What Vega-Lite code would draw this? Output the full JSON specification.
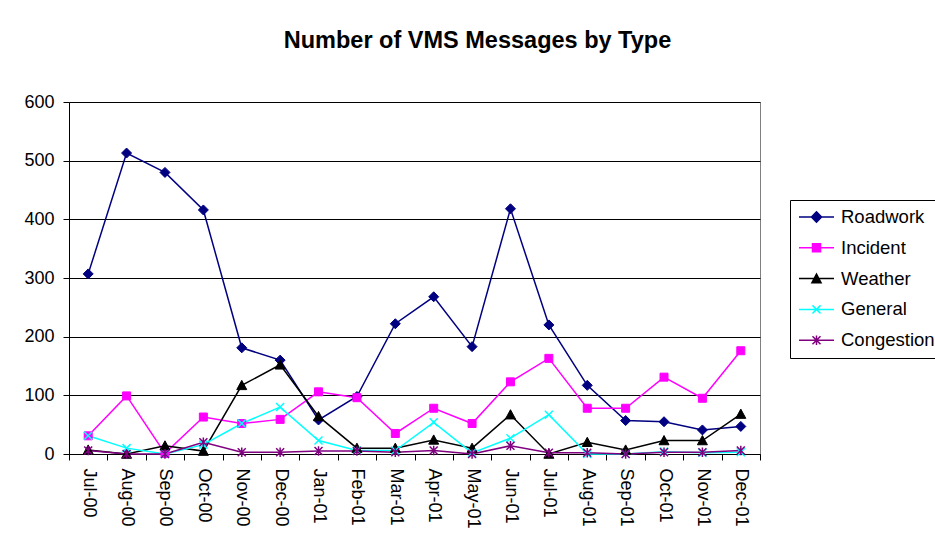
{
  "$schema": "https://vega.github.io/schema/vega-lite/v6.json",
  "width": 691,
  "height": 352,
  "autosize": "none",
  "padding": {"left": 69, "top": 102, "right": 175, "bottom": 88},
  "background": "white",
  "title": {
    "text": "Number of VMS Messages by Type",
    "font": "Liberation Sans",
    "fontSize": 23.5,
    "fontWeight": "bold",
    "color": "black",
    "anchor": "middle",
    "dx": 63,
    "offset": 41
  },
  "config": {
    "view": {"stroke": "#808080", "strokeWidth": 1},
    "font": "Liberation Sans",
    "axis": {
      "labelFont": "Liberation Sans",
      "labelFontSize": 18,
      "labelColor": "black",
      "domainColor": "black",
      "tickColor": "black",
      "gridColor": "black",
      "gridOpacity": 1,
      "tickSize": 6,
      "title": null
    }
  },
  "data": {
    "values": [
      {"month": "Jul-00", "series": "Roadwork", "count": 307},
      {"month": "Aug-00", "series": "Roadwork", "count": 513},
      {"month": "Sep-00", "series": "Roadwork", "count": 480},
      {"month": "Oct-00", "series": "Roadwork", "count": 416},
      {"month": "Nov-00", "series": "Roadwork", "count": 181},
      {"month": "Dec-00", "series": "Roadwork", "count": 160},
      {"month": "Jan-01", "series": "Roadwork", "count": 58},
      {"month": "Feb-01", "series": "Roadwork", "count": 98},
      {"month": "Mar-01", "series": "Roadwork", "count": 222},
      {"month": "Apr-01", "series": "Roadwork", "count": 268},
      {"month": "May-01", "series": "Roadwork", "count": 183},
      {"month": "Jun-01", "series": "Roadwork", "count": 418},
      {"month": "Jul-01", "series": "Roadwork", "count": 220},
      {"month": "Aug-01", "series": "Roadwork", "count": 117},
      {"month": "Sep-01", "series": "Roadwork", "count": 57},
      {"month": "Oct-01", "series": "Roadwork", "count": 55},
      {"month": "Nov-01", "series": "Roadwork", "count": 41},
      {"month": "Dec-01", "series": "Roadwork", "count": 47},

      {"month": "Jul-00", "series": "Incident", "count": 31},
      {"month": "Aug-00", "series": "Incident", "count": 99},
      {"month": "Sep-00", "series": "Incident", "count": 1},
      {"month": "Oct-00", "series": "Incident", "count": 63},
      {"month": "Nov-00", "series": "Incident", "count": 52},
      {"month": "Dec-00", "series": "Incident", "count": 59},
      {"month": "Jan-01", "series": "Incident", "count": 106},
      {"month": "Feb-01", "series": "Incident", "count": 96},
      {"month": "Mar-01", "series": "Incident", "count": 35},
      {"month": "Apr-01", "series": "Incident", "count": 78},
      {"month": "May-01", "series": "Incident", "count": 52},
      {"month": "Jun-01", "series": "Incident", "count": 123},
      {"month": "Jul-01", "series": "Incident", "count": 163},
      {"month": "Aug-01", "series": "Incident", "count": 78},
      {"month": "Sep-01", "series": "Incident", "count": 78},
      {"month": "Oct-01", "series": "Incident", "count": 131},
      {"month": "Nov-01", "series": "Incident", "count": 95},
      {"month": "Dec-01", "series": "Incident", "count": 176},

      {"month": "Jul-00", "series": "Weather", "count": 7},
      {"month": "Aug-00", "series": "Weather", "count": 0},
      {"month": "Sep-00", "series": "Weather", "count": 14},
      {"month": "Oct-00", "series": "Weather", "count": 5},
      {"month": "Nov-00", "series": "Weather", "count": 117},
      {"month": "Dec-00", "series": "Weather", "count": 152},
      {"month": "Jan-01", "series": "Weather", "count": 64},
      {"month": "Feb-01", "series": "Weather", "count": 10},
      {"month": "Mar-01", "series": "Weather", "count": 10},
      {"month": "Apr-01", "series": "Weather", "count": 24},
      {"month": "May-01", "series": "Weather", "count": 10},
      {"month": "Jun-01", "series": "Weather", "count": 67},
      {"month": "Jul-01", "series": "Weather", "count": 0},
      {"month": "Aug-01", "series": "Weather", "count": 20},
      {"month": "Sep-01", "series": "Weather", "count": 7},
      {"month": "Oct-01", "series": "Weather", "count": 23},
      {"month": "Nov-01", "series": "Weather", "count": 23},
      {"month": "Dec-01", "series": "Weather", "count": 68},

      {"month": "Jul-00", "series": "General", "count": 31},
      {"month": "Aug-00", "series": "General", "count": 10},
      {"month": "Sep-00", "series": "General", "count": 0},
      {"month": "Oct-00", "series": "General", "count": 16},
      {"month": "Nov-00", "series": "General", "count": 52},
      {"month": "Dec-00", "series": "General", "count": 80},
      {"month": "Jan-01", "series": "General", "count": 23},
      {"month": "Feb-01", "series": "General", "count": 6},
      {"month": "Mar-01", "series": "General", "count": 6},
      {"month": "Apr-01", "series": "General", "count": 54},
      {"month": "May-01", "series": "General", "count": 2},
      {"month": "Jun-01", "series": "General", "count": 27},
      {"month": "Jul-01", "series": "General", "count": 67},
      {"month": "Aug-01", "series": "General", "count": 0},
      {"month": "Sep-01", "series": "General", "count": 0},
      {"month": "Oct-01", "series": "General", "count": 4},
      {"month": "Nov-01", "series": "General", "count": 2},
      {"month": "Dec-01", "series": "General", "count": 3},

      {"month": "Jul-00", "series": "Congestion", "count": 6},
      {"month": "Aug-00", "series": "Congestion", "count": 0},
      {"month": "Sep-00", "series": "Congestion", "count": 0},
      {"month": "Oct-00", "series": "Congestion", "count": 20},
      {"month": "Nov-00", "series": "Congestion", "count": 3},
      {"month": "Dec-00", "series": "Congestion", "count": 3},
      {"month": "Jan-01", "series": "Congestion", "count": 5},
      {"month": "Feb-01", "series": "Congestion", "count": 5},
      {"month": "Mar-01", "series": "Congestion", "count": 3},
      {"month": "Apr-01", "series": "Congestion", "count": 6},
      {"month": "May-01", "series": "Congestion", "count": 0},
      {"month": "Jun-01", "series": "Congestion", "count": 14},
      {"month": "Jul-01", "series": "Congestion", "count": 2},
      {"month": "Aug-01", "series": "Congestion", "count": 2},
      {"month": "Sep-01", "series": "Congestion", "count": 0},
      {"month": "Oct-01", "series": "Congestion", "count": 3},
      {"month": "Nov-01", "series": "Congestion", "count": 3},
      {"month": "Dec-01", "series": "Congestion", "count": 6}
    ]
  },
  "encoding": {
    "x": {
      "field": "month",
      "type": "ordinal",
      "scale": {
        "type": "band",
        "paddingInner": 0,
        "paddingOuter": 0,
        "domain": ["Jul-00","Aug-00","Sep-00","Oct-00","Nov-00","Dec-00","Jan-01","Feb-01","Mar-01","Apr-01","May-01","Jun-01","Jul-01","Aug-01","Sep-01","Oct-01","Nov-01","Dec-01"]
      },
      "axis": {"labelAngle": 90, "tickBand": "extent", "labelPadding": 8, "grid": false}
    },
    "y": {
      "field": "count",
      "type": "quantitative",
      "scale": {"domain": [0, 600], "nice": false},
      "axis": {"values": [0, 100, 200, 300, 400, 500, 600], "grid": true, "labelPadding": 9, "domain": true}
    }
  },
  "layer": [
    {
      "mark": {"type": "line", "strokeWidth": 1.5},
      "encoding": {
        "order": {"value": null},
        "color": {
          "field": "series",
          "type": "nominal",
          "scale": {
            "domain": ["Roadwork", "Incident", "Weather", "General", "Congestion"],
            "range": ["#000080", "#FF00FF", "#000000", "#00FFFF", "#800080"]
          },
          "legend": {
            "title": null,
            "orient": "none",
            "legendX": 721,
            "legendY": 98,
            "strokeColor": "black",
            "fillColor": "white",
            "padding": 8,
            "clipHeight": 18,
            "rowPadding": 11.8,
            "symbolSize": 1225,
            "symbolStrokeWidth": 1.5,
            "labelFont": "Liberation Sans",
            "labelFontSize": 18.5,
            "labelColor": "black",
            "labelOffset": 6,
            "labelLimit": 200,
            "encode": {
              "symbols": {
                "update": {
                  "shape": {"signal": "datum.value == 'Roadwork' ? 'M-1,0H1M-0.29,0L0,-0.29L0.29,0L0,0.29Z' : datum.value == 'Incident' ? 'M-1,0H1M-0.23,-0.23H0.23V0.23H-0.23Z' : datum.value == 'Weather' ? 'M-1,0H1M0,-0.26L0.26,0.23L-0.26,0.23Z' : datum.value == 'General' ? 'M-1,0H1M-0.23,-0.23L0.23,0.23M-0.23,0.23L0.23,-0.23' : 'M-1,0H1M-0.23,-0.23L0.23,0.23M-0.23,0.23L0.23,-0.23M0,-0.27L0,0.27'"},
                  "fill": {"signal": "datum.value == 'Roadwork' ? '#000080' : datum.value == 'Incident' ? '#FF00FF' : datum.value == 'Weather' ? '#000000' : datum.value == 'General' ? '#00FFFF' : '#800080'"},
                  "fillOpacity": {"value": 1}
                }
              }
            }
          }
        }
      }
    },
    {
      "transform": [{"filter": "datum.series == 'Roadwork'"}],
      "mark": {"type": "point", "shape": "M-1,0L0,-1L1,0L0,1Z", "size": 100, "fill": "#000080", "stroke": "#000080", "strokeWidth": 1, "opacity": 1, "fillOpacity": 1}
    },
    {
      "transform": [{"filter": "datum.series == 'Incident'"}],
      "mark": {"type": "point", "shape": "M-0.8,-0.8H0.8V0.8H-0.8Z", "size": 100, "fill": "#FF00FF", "stroke": "#FF00FF", "strokeWidth": 1, "opacity": 1, "fillOpacity": 1}
    },
    {
      "transform": [{"filter": "datum.series == 'Weather'"}],
      "mark": {"type": "point", "shape": "M0,-1L1,0.85L-1,0.85Z", "size": 100, "fill": "#000000", "stroke": "#000000", "strokeWidth": 1, "opacity": 1, "fillOpacity": 1}
    },
    {
      "transform": [{"filter": "datum.series == 'General'"}],
      "mark": {"type": "point", "shape": "M-0.8,-0.8L0.8,0.8M-0.8,0.8L0.8,-0.8", "size": 100, "fill": "#00FFFF", "stroke": "#00FFFF", "strokeWidth": 1.5, "opacity": 1}
    },
    {
      "transform": [{"filter": "datum.series == 'Congestion'"}],
      "mark": {"type": "point", "shape": "M-0.8,-0.8L0.8,0.8M-0.8,0.8L0.8,-0.8M0,-0.95L0,0.95", "size": 100, "fill": "#800080", "stroke": "#800080", "strokeWidth": 1.5, "opacity": 1}
    }
  ]
}
